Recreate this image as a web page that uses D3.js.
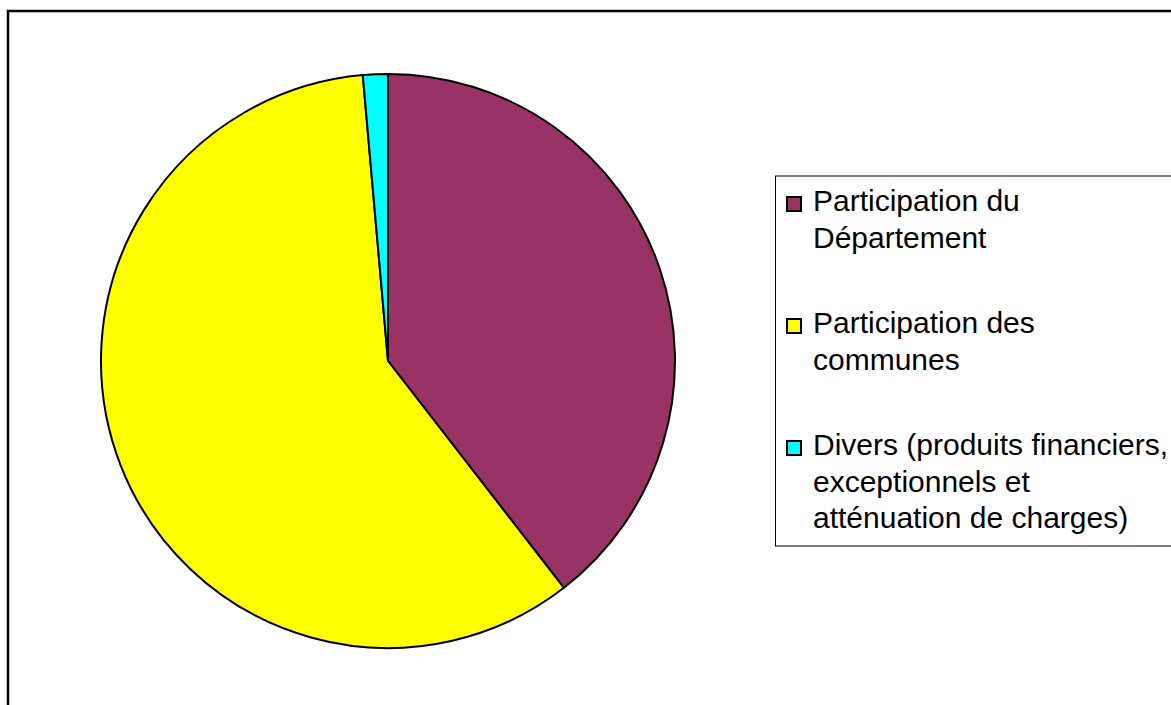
<!DOCTYPE html>
<html>
<head>
<meta charset="utf-8">
<script src="https://cdn.jsdelivr.net/npm/d3@7"></script>
<style>
  body { margin: 0; background: #fff; }
  svg { display: block; }
</style>
</head>
<body>
<svg width="1171" height="705"></svg>
<script>
// data (percent of total)
var labels = [
  ["Participation du", "Département"],
  ["Participation des", "communes"],
  ["Divers (produits financiers,", "exceptionnels et", "atténuation de charges)"]
]
var values = [39.5, 59.1, 1.4]
var colors = ["#993366", "#ffff00", "#00ffff"]

var svg = d3.select("svg")

// outer chart frame (cut off right and bottom)
svg.append("rect")
  .attr("x", 8).attr("y", 11)
  .attr("width", 1200).attr("height", 760)
  .attr("fill", "none")
  .attr("stroke", "#000")
  .attr("stroke-width", 2.5)

var cx = 388, cy = 361, radius = 287

var pie = d3.pie().sort(null).value(d => d)
var arc = d3.arc().innerRadius(0).outerRadius(radius)

svg.append("g")
  .attr("transform", "translate(" + cx + "," + cy + ")")
  .selectAll("path")
  .data(pie(values))
  .enter()
  .append("path")
  .attr("d", arc)
  .attr("fill", (d, i) => colors[i])
  .attr("stroke", "#000")
  .attr("stroke-width", 2)
  .attr("stroke-linejoin", "round")

// legend box
svg.append("rect")
  .attr("x", 775.5).attr("y", 176)
  .attr("width", 420).attr("height", 370)
  .attr("fill", "#fff")
  .attr("stroke", "#000")
  .attr("stroke-width", 1)

var lineH = 36.5
var legend = svg.selectAll(".legend")
  .data(labels)
  .enter().append("g")
  .attr("class", "legend")
  .attr("transform", (d, i) => "translate(0," + (211 + i * 122) + ")")

legend.append("rect")
  .attr("x", 787).attr("y", -14)
  .attr("width", 14).attr("height", 14)
  .attr("fill", (d, i) => colors[i])
  .attr("stroke", "#000")
  .attr("stroke-width", 2)

legend.append("text")
  .attr("x", 813)
  .style("font-family", "'Liberation Sans', Arial, sans-serif")
  .style("font-size", "30px")
  .attr("fill", "#000")
  .selectAll("tspan")
  .data(d => d)
  .enter().append("tspan")
  .attr("x", 813)
  .attr("y", (d, j) => j * lineH)
  .text(d => d)
</script>
</body>
</html>
